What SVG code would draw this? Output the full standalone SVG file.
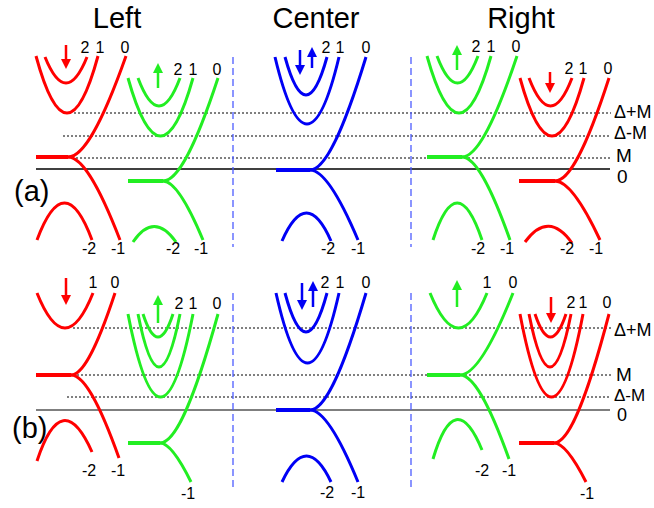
<svg xmlns="http://www.w3.org/2000/svg" width="654" height="508" viewBox="0 0 654 508">
<defs>
<style>
text{font-family:"Liberation Sans",Arial,sans-serif;fill:#000}
.t{font-size:29px;text-anchor:middle}
.p{font-size:29px}
.n{font-size:16px;text-anchor:middle}
.e{font-size:18px}
.c{fill:none;stroke-width:3;stroke-linecap:butt}
.f{fill:none;stroke-width:4}
.r{stroke:#ff0000}
.g{stroke:#22ee22}
.b{stroke:#0000f5}
.dot{stroke:#000;stroke-width:1;stroke-dasharray:2 2;fill:none}
.dash{stroke:#4d5cff;stroke-width:1.3;stroke-dasharray:7 4;fill:none}
.ar{stroke-width:2.5;fill:none}
</style>
<marker id="mr" markerUnits="userSpaceOnUse" markerWidth="10" markerHeight="10" refX="2" refY="5" orient="auto"><path d="M0,0 L10,5 L0,10 z" fill="#ff0000"/></marker>
<marker id="mg" markerUnits="userSpaceOnUse" markerWidth="10" markerHeight="10" refX="2" refY="5" orient="auto"><path d="M0,0 L10,5 L0,10 z" fill="#22ee22"/></marker>
<marker id="mb" markerUnits="userSpaceOnUse" markerWidth="10" markerHeight="10" refX="2" refY="5" orient="auto"><path d="M0,0 L10,5 L0,10 z" fill="#0000f5"/></marker>
</defs>
<rect width="654" height="508" fill="#fff"/>

<g id="titles">
<text class="t" x="117" y="28">Left</text>
<text class="t" x="316" y="28">Center</text>
<text class="t" x="521" y="28">Right</text>
<text class="p" x="14" y="201">(a)</text>
<text class="p" x="12" y="438">(b)</text>
</g>

<g id="guides">
<path class="dot" d="M74,113H611M63,136H611M72,158H611"/>
<path d="M36,169H610" stroke="#000" stroke-width="1.3"/>
<path class="dot" d="M73,328H611M73,375H611M67,397H611"/>
<path d="M36,410H610" stroke="#555" stroke-width="1.6"/>
<path class="dash" d="M233,57V247M411,57V247M233,293V487M411,293V487"/>
</g>

<g id="levels">
<text class="e" x="614" y="118">Δ+M</text>
<text class="e" x="614" y="139">Δ-M</text>
<text class="e" x="616" y="162" style="font-size:19px">M</text>
<text class="e" x="617" y="183" style="font-size:19px">0</text>
<text class="e" x="614" y="336">Δ+M</text>
<text class="e" x="616" y="381" style="font-size:19px">M</text>
<text class="e" x="614" y="401" style="font-size:17px">Δ-M</text>
<text class="e" x="617" y="421">0</text>
</g>

<g id="a-left-red">
<path class="c r" d="M36,56 Q67,170 98,56"/>
<path class="c r" d="M45,57 Q66,109 87,57"/>
<path class="f r" d="M36,157H68"/>
<path class="c r" d="M68,157 C81.9,157 99.9,129.7 126,56"/>
<path class="c r" d="M68,157 C80.5,157 96.6,179.4 120,240"/>
<path class="c r" d="M37,240 Q64.5,166 92,240"/>
<path class="ar r" d="M66,45V61" marker-end="url(#mr)"/>
<text class="n" x="85" y="53">2</text><text class="n" x="100" y="53">1</text><text class="n" x="125" y="53">0</text>
<text class="n" x="89" y="254">-2</text><text class="n" x="118" y="254">-1</text>
</g>

<g id="a-left-green">
<path class="c g" d="M128,78 Q160.5,194 193,78"/>
<path class="c g" d="M138,78 Q159,134 180,78"/>
<path class="f g" d="M128,181H163"/>
<path class="c g" d="M163,181 C176.2,181 193.3,153.2 218,78"/>
<path class="c g" d="M163,181 C172.6,181 185,196.9 203,240"/>
<path class="c g" d="M133,242 Q154,211 176,242"/>
<path class="ar g" d="M158,88V71" marker-end="url(#mg)"/>
<text class="n" x="178" y="75">2</text><text class="n" x="193" y="75">1</text><text class="n" x="217" y="75">0</text>
<text class="n" x="173" y="254">-2</text><text class="n" x="201" y="254">-1</text>
</g>

<g id="a-center-blue">
<path class="c b" d="M275,57 Q307,191 339,57"/>
<path class="c b" d="M285,57 Q306,133 327,57"/>
<path class="f b" d="M276,170H310"/>
<path class="c b" d="M310,170 C323.4,170 340.8,139.5 366,57"/>
<path class="c b" d="M310,170 C321.5,170 336.4,188.9 358,240"/>
<path class="c b" d="M282,241 Q306.5,185 331,241"/>
<path class="ar b" d="M300,50V67" marker-end="url(#mb)"/>
<path class="ar b" d="M312,68V55" marker-end="url(#mb)"/>
<text class="n" x="326" y="53">2</text><text class="n" x="340" y="53">1</text><text class="n" x="366" y="53">0</text>
<text class="n" x="328" y="254">-2</text><text class="n" x="358" y="254">-1</text>
</g>

<g id="a-right-green">
<path class="c g" d="M427,56 Q459,170 491,56"/>
<path class="c g" d="M437,56 Q457.5,110 478,56"/>
<path class="f g" d="M427,157H462"/>
<path class="c g" d="M462,157 C475.2,157 492.3,129.7 517,56"/>
<path class="c g" d="M462,157 C473.5,157 488.4,179.4 510,240"/>
<path class="c g" d="M433,240 Q457,166 482,240"/>
<path class="ar g" d="M457,70V53" marker-end="url(#mg)"/>
<text class="n" x="476" y="52">2</text><text class="n" x="491" y="52">1</text><text class="n" x="516" y="52">0</text>
<text class="n" x="478" y="254">-2</text><text class="n" x="507" y="254">-1</text>
</g>

<g id="a-right-red">
<path class="c r" d="M520,78 Q552,194 584,78"/>
<path class="c r" d="M529,78 Q550.5,134 572,78"/>
<path class="f r" d="M519,181H555"/>
<path class="c r" d="M555,181 C568,181 584.7,153.2 609,78"/>
<path class="c r" d="M555,181 C565.8,181 579.8,196.9 600,240"/>
<path class="c r" d="M525,242 Q548.5,210 572,243"/>
<path class="ar r" d="M550,72V85" marker-end="url(#mr)"/>
<text class="n" x="569" y="74">2</text><text class="n" x="583" y="74">1</text><text class="n" x="608" y="74">0</text>
<text class="n" x="567" y="254">-2</text><text class="n" x="596" y="254">-1</text>
</g>

<g id="b-left-red">
<path class="c r" d="M37,293 Q65,363 93,293"/>
<path class="f r" d="M36,375H71"/>
<path class="c r" d="M71,375 C81.6,375 95.2,352.9 115,293"/>
<path class="c r" d="M71,375 C82.5,375 97.4,397.4 119,458"/>
<path class="c r" d="M37,461 Q62,385 92,452"/>
<path class="ar r" d="M66,278V297" marker-end="url(#mr)"/>
<text class="n" x="93" y="288">1</text><text class="n" x="115" y="288">0</text>
<text class="n" x="89" y="476">-2</text><text class="n" x="118" y="476">-1</text>
</g>

<g id="b-left-green">
<path class="c g" d="M128,314 Q160.5,480 193,314"/>
<path class="c g" d="M138,314 Q159,420 180,314"/>
<path class="c g" d="M143,314 Q158,360 173,314"/>
<path class="f g" d="M128,443H160"/>
<path class="c g" d="M160,443 C173.9,443 191.9,408.2 218,314"/>
<path class="c g" d="M160,443 C167.4,443 177,453.5 191,482"/>
<path class="ar g" d="M158,323V303" marker-end="url(#mg)"/>
<text class="n" x="179" y="309">2</text><text class="n" x="193" y="309">1</text><text class="n" x="217" y="309">0</text>
<text class="n" x="188" y="499">-1</text>
</g>

<g id="b-center-blue">
<path class="c b" d="M276,293 Q307.5,433 339,293"/>
<path class="c b" d="M285,293 Q306,371 327,293"/>
<path class="f b" d="M276,410H310"/>
<path class="c b" d="M310,410 C323.4,410 340.8,378.4 366,293"/>
<path class="c b" d="M310,410 C321.5,410 336.4,429.4 358,482"/>
<path class="c b" d="M282,482 Q306.5,430 331,482"/>
<path class="ar b" d="M302,283V302" marker-end="url(#mb)"/>
<path class="ar b" d="M313,307V289" marker-end="url(#mb)"/>
<text class="n" x="325" y="288">2</text><text class="n" x="340" y="288">1</text><text class="n" x="366" y="288">0</text>
<text class="n" x="327" y="498">-2</text><text class="n" x="358" y="498">-1</text>
</g>

<g id="b-right-green">
<path class="c g" d="M430,293 Q458.5,363 487,293"/>
<path class="f g" d="M427,375H460"/>
<path class="c g" d="M460,375 C472.7,375 489.2,352.9 513,293"/>
<path class="c g" d="M460,375 C471.8,375 487,397.7 509,459"/>
<path class="c g" d="M433,459 Q455,385 482,450"/>
<path class="ar g" d="M457,307V288" marker-end="url(#mg)"/>
<text class="n" x="487" y="288">1</text><text class="n" x="513" y="288">0</text>
<text class="n" x="482" y="476">-2</text><text class="n" x="509" y="476">-1</text>
</g>

<g id="b-right-red">
<path class="c r" d="M520,314 Q551.5,480 583,314"/>
<path class="c r" d="M529,314 Q550,420 571,314"/>
<path class="c r" d="M535,314 Q550.5,360 566,314"/>
<path class="f r" d="M519,443H554"/>
<path class="c r" d="M554,443 C567.2,443 584.3,408.2 609,314"/>
<path class="c r" d="M554,443 C561.7,443 571.6,453.5 586,482"/>
<path class="ar r" d="M551,297V315" marker-end="url(#mr)"/>
<text class="n" x="571" y="308">2</text><text class="n" x="583" y="308">1</text><text class="n" x="607" y="308">0</text>
<text class="n" x="587" y="499">-1</text>
</g>
</svg>
